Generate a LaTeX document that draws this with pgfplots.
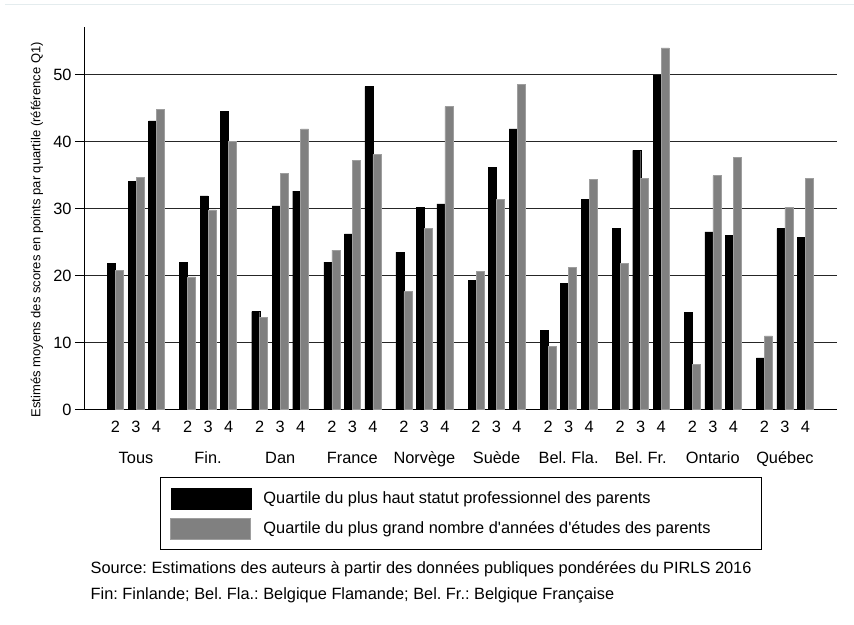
\documentclass[border=0pt]{standalone}
\usepackage{fontspec}
\setmainfont{Liberation Sans}
\usepackage{pgfplots}
\pgfplotsset{compat=1.18}
\usepackage{pgfplotstable}
\frenchspacing

% x position: 136 + 72.1*group + 20.5*(quartile-3)
\pgfplotstableread{
x y
115.5 21.8
136.0 34.1
156.5 43.1
187.6 22.0
208.1 31.9
228.6 44.5
259.7 14.6
280.2 30.4
300.7 32.6
331.8 22.0
352.3 26.2
372.8 48.2
403.9 23.5
424.4 30.2
444.9 30.7
476.0 19.3
496.5 36.2
517.0 41.9
548.1 11.8
568.6 18.8
589.1 31.4
620.2 27.0
640.7 38.7
661.2 49.9
692.3 14.5
712.8 26.5
733.3 26.0
764.4 7.7
784.9 27.0
805.4 25.7
}\profdata

\pgfplotstableread{
x y
115.5 20.8
136.0 34.7
156.5 44.8
187.6 19.8
208.1 29.8
228.6 40.0
259.7 13.7
280.2 35.3
300.7 41.9
331.8 23.8
352.3 37.2
372.8 38.1
403.9 17.6
424.4 27.0
444.9 45.2
476.0 20.6
496.5 31.4
517.0 48.5
548.1 9.4
568.6 21.2
589.1 34.4
620.2 21.8
640.7 34.5
661.2 54.0
692.3 6.7
712.8 34.9
733.3 37.6
764.4 11.0
784.9 30.2
805.4 34.5
}\educdata

\newcommand{\lbl}{\fontsize{16.35}{19}\selectfont}
\definecolor{topline}{RGB}{228,236,238}

\begin{document}
\begin{tikzpicture}
\path[use as bounding box] (0,0) rectangle (854pt,624pt);
\draw[topline, line width=1pt] (5pt,619.5pt) -- (854pt,619.5pt);
\begin{axis}[
  at={(85pt,214.5pt)}, anchor=south west,
  scale only axis, width=752pt, height=382.5pt,
  xmin=85, xmax=837, ymin=0, ymax=57.1,
  axis lines*=left,
  axis line style={black, line width=1pt},
  ytick={0,10,20,30,40,50},
  ymajorgrids,
  grid style={black!85, line width=1pt},
  tick align=outside, major tick length=10pt,
  ytick style={black, line width=1pt},
  xtick={115.5,136.0,156.5,187.6,208.1,228.6,259.7,280.2,300.7,331.8,352.3,372.8,403.9,424.4,444.9,476.0,496.5,517.0,548.1,568.6,589.1,620.2,640.7,661.2,692.3,712.8,733.3,764.4,784.9,805.4},
  xticklabels={2,3,4,2,3,4,2,3,4,2,3,4,2,3,4,2,3,4,2,3,4,2,3,4,2,3,4,2,3,4},
  xtick style={draw=none},
  xticklabel style={anchor=base, yshift=-12.8pt},
  ticklabel style={font=\lbl},
  /pgf/number format/assume math mode=true,
  ylabel={Estimés moyens des scores en points par quartile (référence Q1)},
  ylabel style={font=\fontsize{13}{15}\selectfont, at={(axis description cs:-0.064,0.47)}, anchor=center},
  clip=false,
  legend style={at={(axis description cs:0.0997,-0.1765)}, anchor=north west,
    draw=black, line width=1pt, inner sep=10pt, row sep=9pt, column sep=12.5pt,
    font=\lbl, nodes={inner sep=0pt}},
  legend cell align=left,
  legend image code/.code={\fill[#1] (0pt,-10.5pt) rectangle (80pt,10.5pt);},
]
\addplot[ybar, bar width=8, bar shift=-4, fill=black, draw=black, line width=0.4pt] table[x=x,y=y] {\profdata};
\addlegendentry{\makebox[488pt][l]{Quartile du plus haut statut professionnel des parents}}
\addplot[ybar, bar width=8, bar shift=4, fill=black!50, draw=black!38, line width=0.5pt] table[x=x,y=y] {\educdata};
\addlegendentry{\makebox[488pt][l]{Quartile du plus grand nombre d\textquotesingle années d\textquotesingle études des parents}}

\node[anchor=base, font=\lbl, yshift=-54pt] at (axis cs:136.0,0) {Tous};
\node[anchor=base, font=\lbl, yshift=-54pt] at (axis cs:208.1,0) {Fin.};
\node[anchor=base, font=\lbl, yshift=-54pt] at (axis cs:280.2,0) {Dan};
\node[anchor=base, font=\lbl, yshift=-54pt] at (axis cs:352.3,0) {France};
\node[anchor=base, font=\lbl, yshift=-54pt] at (axis cs:424.4,0) {Norvège};
\node[anchor=base, font=\lbl, yshift=-54pt] at (axis cs:496.5,0) {Suède};
\node[anchor=base, font=\lbl, yshift=-54pt] at (axis cs:568.6,0) {Bel. Fla.};
\node[anchor=base, font=\lbl, yshift=-54pt] at (axis cs:640.7,0) {Bel. Fr.};
\node[anchor=base, font=\lbl, yshift=-54pt] at (axis cs:712.8,0) {Ontario};
\node[anchor=base, font=\lbl, yshift=-54pt] at (axis cs:784.9,0) {Québec};
\end{axis}
\node[anchor=base west, inner sep=0pt, font=\lbl] at (90.5pt,51pt) {Source: Estimations des auteurs à partir des données publiques pondérées du PIRLS 2016};
\node[anchor=base west, inner sep=0pt, font=\lbl] at (90.5pt,25pt) {Fin: Finlande; Bel. Fla.: Belgique Flamande; Bel. Fr.: Belgique Française};
\end{tikzpicture}
\end{document}
